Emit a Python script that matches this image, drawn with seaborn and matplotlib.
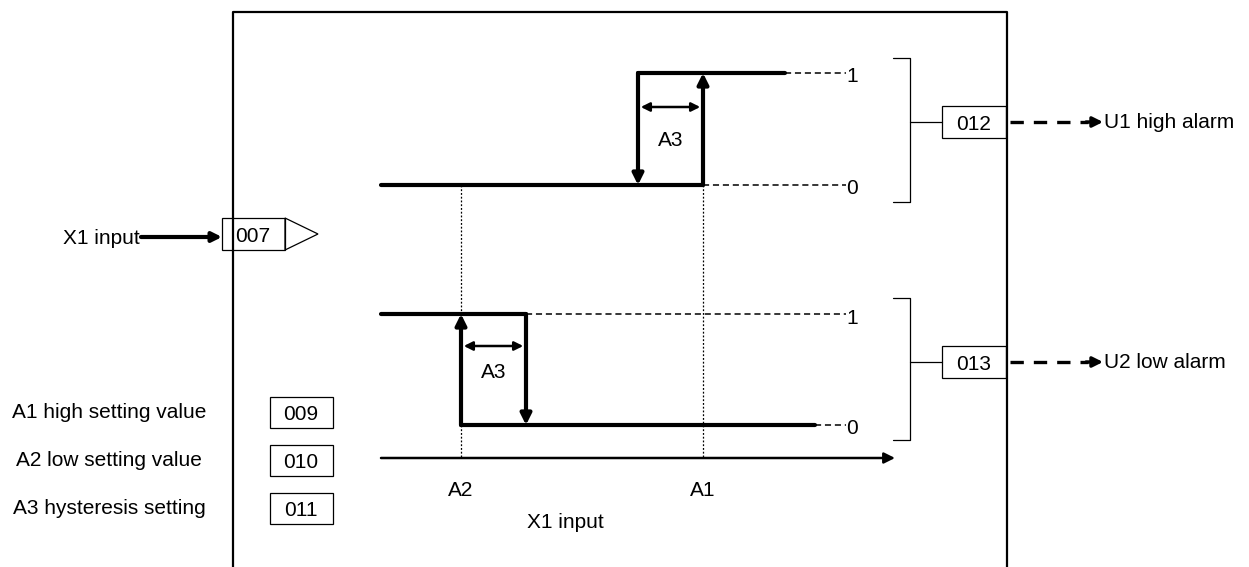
import matplotlib
matplotlib.use("Agg")
import matplotlib.pyplot as plt
import seaborn as sns
import pandas as pd
from matplotlib.patches import Rectangle, Polygon

sns.set_style("white")
plt.rcParams['font.family'] = ['Liberation Sans', 'DejaVu Sans']
plt.rcParams['text.color'] = 'black'

# x positions on the X1 input axis (diagram units = pixels)
x_axis_start = 381
x_axis_end = 895
a2_pos = 461
a1_pos = 703
hysteresis = 65

# output levels -> vertical position of each trace
high_levels = {0: 185, 1: 73}
low_levels = {0: 425, 1: 314}

# high alarm trace: off until A1, on until A1 - A3
high_off_x = [x_axis_start, a1_pos]
high_on_x = [a1_pos - hysteresis, 785]
# low alarm trace: on until A2, off from A2 + A3
low_on_x = [x_axis_start, a2_pos + hysteresis]
low_off_x = [a2_pos, 815]

level_labels = ["0", "1"]
param_labels = ["A1 high setting value", "A2 low setting value", "A3 hysteresis setting"]
param_codes = ["009", "010", "011"]
output_codes = ["012", "013"]
output_labels = ["U1 high alarm", "U2 low alarm"]
input_code = "007"
input_label = "X1 input"

fig = plt.figure(figsize=(12.49, 5.67), dpi=100)
ax = fig.add_axes([0, 0, 1, 1])

FS = 15
THICK = 3.0
THIN = 0.9

# step traces via seaborn
traces = pd.DataFrame({
    "x": high_off_x + high_on_x + low_on_x + low_off_x,
    "y": [high_levels[0]] * 2 + [high_levels[1]] * 2 + [low_levels[1]] * 2 + [low_levels[0]] * 2,
    "seg": ["a"] * 2 + ["b"] * 2 + ["c"] * 2 + ["d"] * 2,
})
sns.lineplot(data=traces, x="x", y="y", units="seg", estimator=None, sort=False,
             color="black", lw=THICK, ax=ax, legend=False, solid_capstyle="round")
ax.set_xlim(0, 1249)
ax.set_ylim(567, 0)
ax.axis("off")

# main frame
ax.plot([233, 233, 1007, 1007], [600, 12, 12, 600], color="black", lw=1.6)


def varrow(x, y0, y1, lw=THICK):
    ax.annotate("", xy=(x, y1), xytext=(x, y0),
                arrowprops=dict(arrowstyle="-|>", lw=lw, color="black",
                                mutation_scale=16, shrinkA=0, shrinkB=0))


def harrow2(x0, x1, y):
    ax.annotate("", xy=(x1, y), xytext=(x0, y),
                arrowprops=dict(arrowstyle="<|-|>", lw=1.8, color="black",
                                mutation_scale=13, shrinkA=2, shrinkB=2))


# upper switching edges
varrow(a1_pos, high_levels[0], high_levels[1])
varrow(a1_pos - hysteresis, high_levels[1], high_levels[0])
harrow2(a1_pos - hysteresis, a1_pos, 107)
ax.text(a1_pos - hysteresis / 2, 140, "A3", fontsize=FS, ha="center", va="center")

# lower switching edges
varrow(a2_pos, low_levels[0], low_levels[1])
varrow(a2_pos + hysteresis, low_levels[1], low_levels[0])
harrow2(a2_pos, a2_pos + hysteresis, 346)
ax.text(a2_pos + hysteresis / 2, 372, "A3", fontsize=FS, ha="center", va="center")

# dashed level guides + labels
for xs, y, lab in [(high_on_x[1], high_levels[1], "1"), (a1_pos, high_levels[0], "0"),
                   (low_on_x[1], low_levels[1], "1"), (low_off_x[1], low_levels[0], "0")]:
    ax.plot([xs, 846], [y, y], color="black", lw=1.1, ls=(0, (4, 2.5)))
    ax.text(846, y + 4, lab, fontsize=FS, ha="left", va="center")

# dotted drop lines
ax.plot([a1_pos, a1_pos], [high_levels[0], 458], color="black", lw=THIN, ls=(0, (1.5, 1.5)))
ax.plot([a2_pos, a2_pos], [high_levels[0], 458], color="black", lw=THIN, ls=(0, (1.5, 1.5)))

# X axis
ax.annotate("", xy=(x_axis_end, 458), xytext=(x_axis_start, 458),
            arrowprops=dict(arrowstyle="-|>", lw=1.8, color="black",
                            mutation_scale=16, shrinkA=0, shrinkB=0))
ax.text(a2_pos, 491, "A2", fontsize=FS, ha="center", va="center")
ax.text(a1_pos, 491, "A1", fontsize=FS, ha="center", va="center")
ax.text(565, 523, input_label, fontsize=FS, ha="center", va="center")

# brackets, output boxes and dashed output arrows
for (top, bot, mid), code, lab in zip([(58, 202, 122), (298, 440, 362)], output_codes, output_labels):
    ax.plot([893, 910, 910, 893], [top, top, bot, bot], color="black", lw=THIN)
    ax.plot([910, 942], [mid, mid], color="black", lw=THIN)
    ax.add_patch(Rectangle((942, mid - 16), 64, 32, fill=False, ec="black", lw=THIN))
    ax.text(974, mid + 2, code, fontsize=FS, ha="center", va="center")
    ax.plot([1010, 1088], [mid, mid], color="black", lw=2.4, ls=(0, (4, 3)))
    ax.annotate("", xy=(1103, mid), xytext=(1086, mid),
                arrowprops=dict(arrowstyle="-|>", lw=2.4, color="black",
                                mutation_scale=15, shrinkA=0, shrinkB=0))
    ax.text(1104, mid + 1, lab, fontsize=FS, ha="left", va="center")

# input side
ax.text(140, 238, input_label, fontsize=FS, ha="right", va="center")
ax.annotate("", xy=(222, 237), xytext=(141, 237),
            arrowprops=dict(arrowstyle="-|>", lw=3.0, color="black",
                            mutation_scale=14, shrinkA=0, shrinkB=0))
ax.add_patch(Rectangle((222, 218), 63, 32, fill=False, ec="black", lw=THIN))
ax.text(253, 236, input_code, fontsize=FS, ha="center", va="center")
ax.add_patch(Polygon([(285, 218), (318, 234), (285, 250)], closed=True, fill=False,
                     ec="black", lw=THIN))

# parameter settings
for i, (lab, code) in enumerate(zip(param_labels, param_codes)):
    yc = 412 + 48 * i
    ax.text(109, yc + 1, lab, fontsize=FS, ha="center", va="center")
    ax.add_patch(Rectangle((270, yc - 15), 63, 31, fill=False, ec="black", lw=THIN))
    ax.text(301, yc + 2, code, fontsize=FS, ha="center", va="center")

fig.savefig("out.png", dpi=100)
